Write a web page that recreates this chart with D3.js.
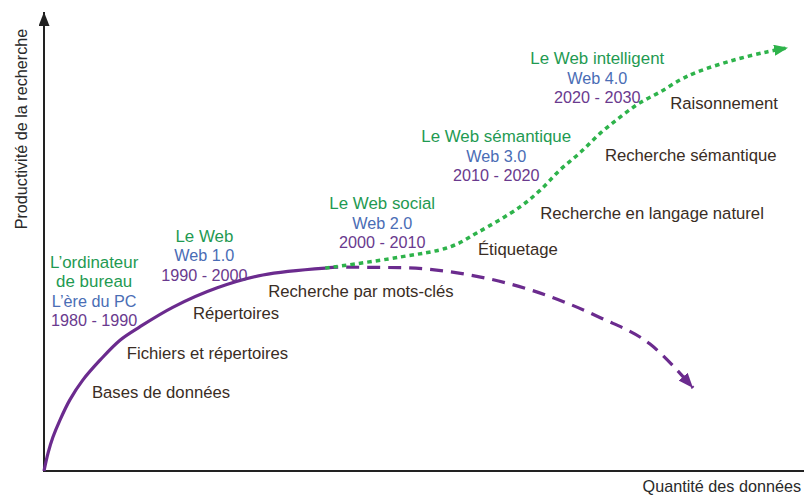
<!DOCTYPE html>
<html><head><meta charset="utf-8">
<script src="https://cdn.jsdelivr.net/npm/d3@7"></script>
<style>body{margin:0;background:#fff}svg{display:block}text{font-family:"Liberation Sans",Arial,sans-serif}</style>
</head><body><svg id="c" width="804" height="495"></svg>
<script>
// ---- data (abstract units: x = quantité des données, y = productivité) ----
const pcCurve = [[0,0],[0.53,3.9],[1.18,7.4],[2.1,11.1],[3.4,15.5],[5.1,19.8],[7.4,24.2],[10.0,28.5],[12.6,31.4],[17.0,35.7],[22.8,39.9],[28.8,42.7],[37.0,44.2]];
const decline = [[37.0,44.2],[38.9,44.4],[46.8,44.3],[55.7,42.8],[64.3,39.3],[73.2,33.4],[79.7,27.7],[85.4,18.1]];
const growth  = [[37.0,44.2],[46.8,46.6],[53.4,48.8],[57.0,51.9],[62.6,57.5],[65.3,61.2],[67.9,65.6],[70.5,69.3],[73.2,73.6],[75.8,77.1],[78.4,80.2],[81.1,82.6],[83.7,85.2],[85.9,86.9],[90.7,89.5],[95.1,91.3],[97.9,92.2]];
const eras = [
  {lines:["L’ordinateur","de bureau","L’ère du PC","1980 - 1990"], x:6.6, y:45.6},
  {lines:["Le Web","Web 1.0","1990 - 2000"], x:21.1, y:51.3},
  {lines:["Le Web social","Web 2.0","2000 - 2010"], x:44.5, y:58.3},
  {lines:["Le Web sémantique","Web 3.0","2010 - 2020"], x:59.5, y:72.9},
  {lines:["Le Web intelligent","Web 4.0","2020 - 2030"], x:72.8, y:89.9}
];
const stages = [
  {t:"Bases de données", x:6.3, y:17.2},
  {t:"Fichiers et répertoires", x:10.9, y:25.8},
  {t:"Répertoires", x:19.6, y:34.5},
  {t:"Recherche par mots-clés", x:29.5, y:39.3},
  {t:"Étiquetage", x:57.1, y:48.3},
  {t:"Recherche en langage naturel", x:65.3, y:56.3},
  {t:"Recherche sémantique", x:73.8, y:68.8},
  {t:"Raisonnement", x:82.4, y:80.1}
];
const axisLabels = {y:"Productivité de la recherche", x:"Quantité des données"};

// ---- drawing ----
const svg = d3.select("#c");
const x = d3.scaleLinear().domain([0,100]).range([44,804]);
const y = d3.scaleLinear().domain([0,100]).range([471,12]);
const lineColors = {purple:"#6b2b8e", green:"#2eb34b"};
const textColors = ["#1f9a52","#4a6db5","#6a3a8e","#6a3a8e"];

const defs = svg.append("defs");
function marker(id, color, w, h){
  defs.append("marker").attr("id",id).attr("viewBox",`0 0 ${w} ${h}`)
    .attr("refX",w).attr("refY",h/2).attr("markerWidth",w).attr("markerHeight",h)
    .attr("markerUnits","userSpaceOnUse").attr("orient","auto")
    .append("path").attr("d",`M0,0L${w},${h/2}L0,${h}Z`).attr("fill",color);
}
marker("arrP", lineColors.purple, 15, 12);
marker("arrG", lineColors.green, 14, 11);
marker("arrK", "#222", 14, 11);

// axes
svg.append("line").attr("x1",x(0)).attr("y1",y(0)).attr("x2",x(0)).attr("y2",y(100))
  .attr("stroke","#222").attr("stroke-width",2).attr("marker-end","url(#arrK)");
svg.append("line").attr("x1",x(0)-1).attr("y1",y(0)).attr("x2",x(100)).attr("y2",y(0))
  .attr("stroke","#222").attr("stroke-width",2);

svg.append("text").attr("transform",`translate(27,${y(74.5)}) rotate(-90)`)
  .attr("text-anchor","middle").attr("font-size",16.2).attr("fill","#2a2a2a").text(axisLabels.y);
svg.append("text").attr("x",801).attr("y",492).attr("text-anchor","end")
  .attr("font-size",16.2).attr("fill","#2a2a2a").text(axisLabels.x);

const line = d3.line().x(d=>x(d[0])).y(d=>y(d[1])).curve(d3.curveMonotoneX);
const lineC = d3.line().x(d=>x(d[0])).y(d=>y(d[1])).curve(d3.curveCatmullRom.alpha(0.5));

svg.append("path").attr("d",line(decline)).attr("fill","none").attr("stroke",lineColors.purple)
  .attr("stroke-width",3.2).attr("stroke-dasharray","13,8").attr("marker-end","url(#arrP)");
svg.append("path").attr("d",lineC(growth)).attr("fill","none").attr("stroke",lineColors.green)
  .attr("stroke-width",3.5).attr("stroke-dasharray","4.5,4").attr("marker-end","url(#arrG)");
svg.append("path").attr("d",lineC(pcCurve)).attr("fill","none").attr("stroke",lineColors.purple)
  .attr("stroke-width",3.2);

// era labels
eras.forEach(e=>{
  const n = e.lines.length;
  const t = svg.append("text").attr("text-anchor","middle");
  e.lines.forEach((s,i)=>{
    const ci = n===4 ? [0,0,1,2][i] : i;
    t.append("tspan").attr("x",x(e.x)).attr("y",y(e.y)+i*19.5+6)
      .attr("font-size", ci===0 ? 16.9 : 16.2)
      .attr("fill",textColors[ci]).text(s);
  });
});
// stage labels
stages.forEach(s=>{
  svg.append("text").attr("x",x(s.x)).attr("y",y(s.y)+6).attr("font-size",16.7)
    .attr("fill","#3a2d24").text(s.t);
});
</script></body></html>
